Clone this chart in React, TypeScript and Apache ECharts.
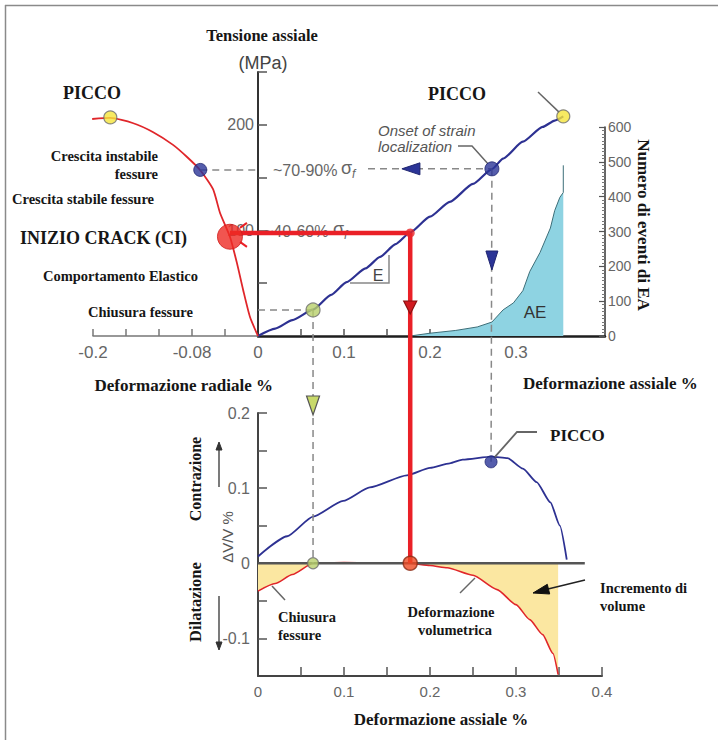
import React, { useEffect, useRef } from 'react';
import * as echarts from 'echarts';

// ---------- DATA ----------
// Top chart, right: axial stress (MPa) vs axial strain (%)
const axialStrainTop = [0, 0.02, 0.04, 0.064, 0.085, 0.103, 0.125, 0.142, 0.16, 0.177, 0.2, 0.223, 0.25, 0.272, 0.285, 0.308, 0.331, 0.345, 0.355];
const axialStressTop = [0, 7, 15, 25, 39, 51, 64, 75, 87, 98, 113, 127, 144, 158, 168, 184, 198, 204, 208];

// Top chart, left: axial stress (MPa) vs radial strain (%)
const radialStrain = [0, -0.0097, -0.018, -0.0255, -0.034, -0.046, -0.0545, -0.07, -0.086, -0.103, -0.127, -0.152, -0.179, -0.201];
const radialStress = [0, 18, 43.6, 69, 94, 116.5, 139, 157, 169.5, 181, 193, 201.7, 206.5, 205.5];

// Acoustic emission events (right axis) vs axial strain
const aeStrain = [0.177, 0.2, 0.23, 0.255, 0.272, 0.285, 0.297, 0.308, 0.316, 0.328, 0.34, 0.345, 0.351, 0.355, 0.355];
const aeCount = [0, 8, 16, 26, 40, 75, 95, 130, 185, 240, 310, 360, 398, 412, 490];

// Bottom chart: ΔV/V % vs axial strain
const volStrainBlue = [0, 0.034, 0.064, 0.099, 0.13, 0.173, 0.2, 0.223, 0.238, 0.272, 0.29, 0.308, 0.324, 0.34, 0.351, 0.359];
const volBlue = [0.009, 0.036, 0.062, 0.083, 0.101, 0.117, 0.127, 0.133, 0.138, 0.142, 0.14, 0.126, 0.108, 0.081, 0.05, 0.005];
const volStrainRed = [0, 0.02, 0.04, 0.064, 0.1, 0.15, 0.177, 0.2, 0.22, 0.25, 0.278, 0.3, 0.316, 0.331, 0.343, 0.349];
const volRed = [-0.037, -0.027, -0.015, 0, 0.001, 0, 0, -0.003, -0.006, -0.016, -0.035, -0.055, -0.075, -0.095, -0.12, -0.148];
const zeroLine = [[0, 0], [0.38, 0]];

// Key points
const peakAxial = [0.355, 208];
const peakRadial = [-0.179, 207];
const onsetAxial = [0.272, 158.3];
const unstableRadial = [-0.07, 157.3];
const closureAxial = [0.064, 24.6];
const ciRadial = [-0.034, 94];
const ciAxial = [0.177, 97.6];
const closureVol = [0.064, 0];
const ciVol = [0.177, 0];
const peakVol = [0.271, 0.135];

// Ticks and labels
const stressTicks = [50, 100, 150, 200, 250];
const stressLabels = [100, 200];
const axialTicksTop = [0.05, 0.1, 0.15, 0.2, 0.25, 0.3, 0.35];
const axialLabelsTop = [0, 0.1, 0.2, 0.3];
const radialTicks = [-0.2, -0.16, -0.12, -0.08, -0.04];
const radialLabels = [-0.2, -0.08];
const volTicks = [-0.1, -0.05, 0.05, 0.1, 0.15, 0.2];
const volLabels = [-0.1, 0, 0.1, 0.2];
const axialTicksBottom = [0.05, 0.1, 0.15, 0.2, 0.25, 0.3, 0.35, 0.4];
const axialLabelsBottom = [0, 0.1, 0.2, 0.3, 0.4];

const zip = (a: number[], b: number[]) => a.map((v, i) => [v, b[i]]);

const SANS = '"Liberation Sans", Arial, sans-serif';
const SERIF = '"Liberation Serif", "Times New Roman", serif';
const fmt = (v: number) => String(Math.round(v * 1000) / 1000);

const BLUE = '#2d3192';
const RED = '#e0262a';

function buildOption(): any {
  return {
    animation: false,
    backgroundColor: '#ffffff',
    grid: [
      { left: 258, top: 72, width: 347, height: 264 },
      { left: 93, top: 72, width: 165, height: 264 },
      { left: 258, top: 127, width: 347, height: 209 },
      { left: 258, top: 413, width: 344, height: 263 },
    ],
    xAxis: [
      {
        type: 'value', gridIndex: 0, min: 0, max: 0.4035,
        axisLine: { show: true, onZero: false, lineStyle: { color: '#1e1e1e', width: 2.5 } },
        axisTick: { show: true, inside: true, length: 7, customValues: axialTicksTop, lineStyle: { color: '#555', width: 1.5 } },
        axisLabel: { show: true, customValues: axialLabelsTop, formatter: fmt, color: '#666', fontSize: 17, fontFamily: SANS, margin: 8 },
        splitLine: { show: false },
      },
      {
        type: 'value', gridIndex: 1, min: -0.2, max: 0,
        axisLine: { show: true, onZero: false, lineStyle: { color: '#777', width: 1.5 } },
        axisTick: { show: true, inside: true, length: 7, customValues: radialTicks, lineStyle: { color: '#777', width: 1.5 } },
        axisLabel: { show: true, customValues: radialLabels, formatter: fmt, color: '#666', fontSize: 17, fontFamily: SANS, margin: 8 },
        splitLine: { show: false },
      },
      { type: 'value', gridIndex: 2, min: 0, max: 0.4035, show: false },
      {
        type: 'value', gridIndex: 3, min: 0, max: 0.4,
        axisLine: { show: true, onZero: false, lineStyle: { color: '#444', width: 2 } },
        axisTick: { show: true, inside: true, length: 9, customValues: axialTicksBottom, lineStyle: { color: '#555', width: 1.5 } },
        axisLabel: { show: true, customValues: axialLabelsBottom, formatter: fmt, color: '#666', fontSize: 15, fontFamily: SANS, margin: 8 },
        splitLine: { show: false },
      },
    ],
    yAxis: [
      {
        type: 'value', gridIndex: 0, min: 0, max: 250,
        axisLine: { show: true, onZero: false, lineStyle: { color: '#333', width: 2 } },
        axisTick: { show: true, inside: true, length: 9, customValues: stressTicks, lineStyle: { color: '#555', width: 1.5 } },
        axisLabel: { show: true, customValues: stressLabels, formatter: fmt, color: '#666', fontSize: 16, fontFamily: SANS, margin: 4 },
        splitLine: { show: false },
      },
      { type: 'value', gridIndex: 1, min: 0, max: 250, show: false },
      {
        type: 'value', gridIndex: 2, min: 0, max: 600, interval: 100, position: 'right',
        axisLine: { show: true, onZero: false, lineStyle: { color: '#333', width: 1.5 } },
        axisTick: { show: true, inside: true, length: 6, lineStyle: { color: '#555', width: 1.2 } },
        minorTick: { show: true, splitNumber: 10, length: 3, lineStyle: { color: '#777', width: 1 } },
        axisLabel: { show: true, color: '#666', fontSize: 14, fontFamily: SANS, margin: 3 },
        splitLine: { show: false },
      },
      {
        type: 'value', gridIndex: 3, min: -0.15, max: 0.2,
        axisLine: { show: true, onZero: false, lineStyle: { color: '#444', width: 2 } },
        axisTick: { show: true, inside: true, length: 9, customValues: volTicks, lineStyle: { color: '#555', width: 1.5 } },
        axisLabel: { show: true, customValues: volLabels, formatter: fmt, color: '#666', fontSize: 16, fontFamily: SANS, margin: 8 },
        splitLine: { show: false },
      },
    ],
    series: [
      {
        type: 'line', xAxisIndex: 2, yAxisIndex: 2, z: 1, showSymbol: false, silent: true,
        data: zip(aeStrain, aeCount),
        lineStyle: { color: '#3d6e78', width: 1 },
        areaStyle: { color: '#8ed3e2', opacity: 1 },
      },
      {
        type: 'line', xAxisIndex: 0, yAxisIndex: 0, z: 2, showSymbol: false, silent: true,
        smooth: 0.2, smoothMonotone: 'x',
        data: zip(axialStrainTop, axialStressTop),
        lineStyle: { color: BLUE, width: 2.2 },
      },
      {
        type: 'line', xAxisIndex: 1, yAxisIndex: 1, z: 2, showSymbol: false, silent: true,
        smooth: 0.2,
        data: zip(radialStrain, radialStress),
        lineStyle: { color: RED, width: 1.8 },
      },
      {
        type: 'line', xAxisIndex: 3, yAxisIndex: 3, z: 1, showSymbol: false, silent: true,
        smooth: 0.2, smoothMonotone: 'x',
        data: zip(volStrainRed, volRed),
        lineStyle: { color: RED, width: 1.6 },
        areaStyle: { color: '#fbe7a1', opacity: 1 },
      },
      {
        type: 'line', xAxisIndex: 3, yAxisIndex: 3, z: 2, showSymbol: false, silent: true,
        data: zeroLine,
        lineStyle: { color: '#555', width: 2.5 },
      },
      {
        type: 'line', xAxisIndex: 3, yAxisIndex: 3, z: 2, showSymbol: false, silent: true,
        smooth: 0.2, smoothMonotone: 'x',
        data: zip(volStrainBlue, volBlue),
        lineStyle: { color: BLUE, width: 1.8 },
      },
      {
        type: 'scatter', xAxisIndex: 0, yAxisIndex: 0, z: 5, silent: true,
        data: [
          { value: peakAxial, symbolSize: 13, itemStyle: { color: '#f5e53b', borderColor: '#6b6b6b', borderWidth: 1.2 } },
          { value: onsetAxial, symbolSize: 14, itemStyle: { color: '#2b3497', borderColor: '#1f2570', borderWidth: 1 } },
          { value: closureAxial, symbolSize: 14, itemStyle: { color: '#b8cf6a', borderColor: '#6b6b6b', borderWidth: 1.2 } },
          { value: ciAxial, symbolSize: 9, itemStyle: { color: '#e8262a', borderColor: '#e8262a', borderWidth: 0 } },
        ],
      },
      {
        type: 'scatter', xAxisIndex: 1, yAxisIndex: 1, z: 5, silent: true,
        data: [
          { value: peakRadial, symbolSize: 13, itemStyle: { color: '#f5e53b', borderColor: '#6b6b6b', borderWidth: 1.2 } },
          { value: unstableRadial, symbolSize: 13, itemStyle: { color: '#2b3497', borderColor: '#1f2570', borderWidth: 1 } },
          { value: ciRadial, symbolSize: 25, itemStyle: { color: '#ee2b24', borderColor: '#d01d1a', borderWidth: 1 } },
        ],
      },
      {
        type: 'scatter', xAxisIndex: 3, yAxisIndex: 3, z: 5, silent: true,
        data: [
          { value: closureVol, symbolSize: 11, itemStyle: { color: '#b8cf6a', borderColor: '#6b6b6b', borderWidth: 1.2 } },
          { value: ciVol, symbolSize: 14, itemStyle: { color: '#ef4a23', borderColor: '#8b2a14', borderWidth: 1.5 } },
          { value: peakVol, symbolSize: 12, itemStyle: { color: '#2b3497', borderColor: '#1f2570', borderWidth: 1 } },
        ],
      },
    ],
  };
}

const L = (x1: number, y1: number, x2: number, y2: number, stroke: string, lineWidth: number, dash?: number[], z = 4) => ({
  type: 'line', silent: true, z,
  shape: { x1, y1, x2, y2 },
  style: { stroke, lineWidth, lineDash: dash || null },
});
const PL = (points: number[][], stroke: string, lineWidth: number, z = 4) => ({
  type: 'polyline', silent: true, z,
  shape: { points },
  style: { stroke, lineWidth, fill: null },
});
const PG = (points: number[][], fill: string, stroke: string, lineWidth = 1, z = 6) => ({
  type: 'polygon', silent: true, z,
  shape: { points },
  style: { fill, stroke, lineWidth },
});
const T = (text: string, x: number, y: number, font: string, fill: string, align = 'left', rotation = 0, z = 6) => ({
  type: 'text', silent: true, z, x, y, rotation,
  style: { text, font, fill, textAlign: align, textVerticalAlign: 'middle' },
});

export default function App() {
  const ref = useRef<HTMLDivElement>(null);
  useEffect(() => {
    const el = ref.current as HTMLDivElement;
    const chart = echarts.init(el, null, { renderer: 'svg' });
    chart.setOption(buildOption());
    const P = (g: number, pt: number[]) => chart.convertToPixel({ gridIndex: g } as any, pt) as number[];

    const ciA = P(1, [ciRadial[0], ciAxial[1]]);
    const ciB = P(0, ciAxial);
    const ciC = P(3, ciVol);
    const clA = P(0, closureAxial);
    const clB = P(3, closureVol);
    const clAxis = P(0, [0, closureAxial[1]]);
    const onA = P(0, onsetAxial);
    const onB = P(3, peakVol);
    const unA = P(1, unstableRadial);
    const axisX = P(0, [0, 0])[0];
    const pkA = P(0, peakAxial);

    const GRAY = '#888';
    const DASH = [7, 5];
    const BS = (s: number) => `bold ${s}px ${SERIF}`;
    const INK = '#161616';

    const elements: any[] = [
      // frame
      L(5.5, 5, 5.5, 740, '#8a8a8a', 1.5, undefined, 0),
      L(5, 5.5, 718, 5.5, '#8a8a8a', 1.5, undefined, 0),
      // dashed guides
      L(unA[0], unA[1], axisX, unA[1], GRAY, 1.5, DASH),
      L(axisX + 110, onA[1], onA[0], onA[1], GRAY, 1.5, DASH),
      L(clAxis[0], clAxis[1], clA[0], clA[1], GRAY, 1.5, DASH),
      L(clA[0], clA[1], clB[0], clB[1], GRAY, 1.5, DASH),
      L(onA[0], onA[1], onB[0], onB[1], GRAY, 1.5, DASH),
      // E slope box
      PL([[350, 283], [389, 283], [389, 255]], '#888', 1.5, 1),
      // ~40-60% text (under the red line)
      T('~40-60%', 264, 231, `16px ${SANS}`, '#666', 'left', 0, 2),
      T('σ', 333, 229, `18px ${SANS}`, '#666', 'left', 0, 2),
      T('f', 344, 235, `italic 12px ${SANS}`, '#666', 'left', 0, 2),
      // red CI lines
      L(ciA[0], ciA[1], ciB[0], ciB[1], '#ea2027', 4.5, undefined, 3),
      L(ciB[0], ciB[1], ciC[0], ciC[1], '#ea2027', 4.5, undefined, 3),
      L(ciA[0] + 10, ciA[1] - 5, ciA[0] + 17, ciA[1] - 10, '#ea2027', 2, undefined, 3),
      L(ciA[0] + 10, ciA[1] + 9, ciA[0] + 17, ciA[1] + 14, '#ea2027', 2, undefined, 3),
      // triangles
      PG([[onA[0] - 90, onA[1]], [onA[0] - 72, onA[1] - 6], [onA[0] - 72, onA[1] + 6]], '#2b3497', '#1f2570'),
      PG([[onA[0] - 6, 251], [onA[0] + 6, 251], [onA[0], 270]], '#2b3497', '#1f2570'),
      PG([[ciB[0] - 6.5, 301], [ciB[0] + 6.5, 301], [ciB[0], 314]], '#d11a20', '#8a1010', 1.2),
      PG([[clA[0] - 6.5, 396], [clA[0] + 6.5, 396], [clA[0], 415]], '#c8d96a', '#555', 1.2),
      // leader lines
      L(538, 92, pkA[0] - 4, pkA[1] - 4, '#666', 1.5),
      PL([[458, 146], [472, 146], [onA[0] - 4, onA[1] - 5]], '#666', 1.5),
      PL([[537, 432], [517, 432], [onB[0] + 3, onB[1] - 4]], '#666', 1.8),
      L(285, 600, 272, 586, '#666', 1.5),
      L(460, 593, 475, 578, '#666', 1.5),
      L(585, 580, 548, 589, '#222', 1.5),
      PG([[533, 593], [549.7, 594], [547.3, 584.3]], '#111', '#111', 1),
      // vertical arrows (bottom left)
      L(219, 487, 219, 449, '#333', 1.3),
      PG([[216, 450], [222, 450], [219, 442]], '#333', '#333', 1),
      L(219, 596, 219, 643, '#333', 1.3),
      PG([[216, 642], [222, 642], [219, 650]], '#333', '#333', 1),
      // titles & annotations
      T('Tensione assiale', 262, 35, BS(16.5), INK, 'center'),
      T('(MPa)', 263, 63, `18px ${SANS}`, '#444', 'center'),
      T('PICCO', 92, 93, BS(18), INK, 'center'),
      T('Crescita instabile', 158, 156, BS(14.5), INK, 'right'),
      T('fessure', 158, 174, BS(14.5), INK, 'right'),
      T('Crescita stabile fessure', 12, 199, BS(14.5), INK, 'left'),
      T('INIZIO CRACK (CI)', 20, 238, BS(18), INK, 'left'),
      T('Comportamento Elastico', 43, 276, BS(14.5), INK, 'left'),
      T('Chiusura fessure', 88, 312, BS(14.5), INK, 'left'),
      T('PICCO', 428, 94, BS(18), INK, 'left'),
      T('Onset of strain', 378, 130, `italic 15px ${SANS}`, '#555', 'left'),
      T('localization', 378, 146, `italic 15px ${SANS}`, '#555', 'left'),
      T('~70-90%', 273, 170, `16px ${SANS}`, '#666', 'left'),
      T('σ', 341, 168, `18px ${SANS}`, '#666', 'left'),
      T('f', 352, 174, `italic 12px ${SANS}`, '#666', 'left'),
      T('E', 378, 275, `16px ${SANS}`, '#444', 'center'),
      T('AE', 535, 312, `17px ${SANS}`, '#333', 'center'),
      T('Numero di eventi di EA', 643, 225, BS(17), INK, 'center', -Math.PI / 2),
      T('Deformazione radiale %', 273, 385, BS(17), INK, 'right'),
      T('Deformazione assiale %', 523, 383, BS(17), INK, 'left'),
      T('PICCO', 550, 435, BS(17), INK, 'left'),
      T('Contrazione', 195, 479, BS(16), INK, 'center', Math.PI / 2),
      T('ΔV/V %', 227, 537, `15px ${SANS}`, '#555', 'center', Math.PI / 2),
      T('Dilatazione', 195, 602, BS(16.5), INK, 'center', Math.PI / 2),
      T('Chiusura', 278, 617, BS(14.5), INK, 'left'),
      T('fessure', 278, 635, BS(14.5), INK, 'left'),
      T('Deformazione', 451, 612, BS(14.5), INK, 'center'),
      T('volumetrica', 455, 630, BS(14.5), INK, 'center'),
      T('Incremento di', 600, 588, BS(14.5), INK, 'left'),
      T('volume', 600, 606, BS(14.5), INK, 'left'),
      T('Deformazione assiale %', 441, 719, BS(17), INK, 'center'),
    ];
    chart.setOption({ graphic: { elements } });
    return () => chart.dispose();
  }, []);
  return <div ref={ref} style={{ position: 'absolute', left: 0, top: 0, width: 718, height: 740, background: '#fff' }} />;
}
